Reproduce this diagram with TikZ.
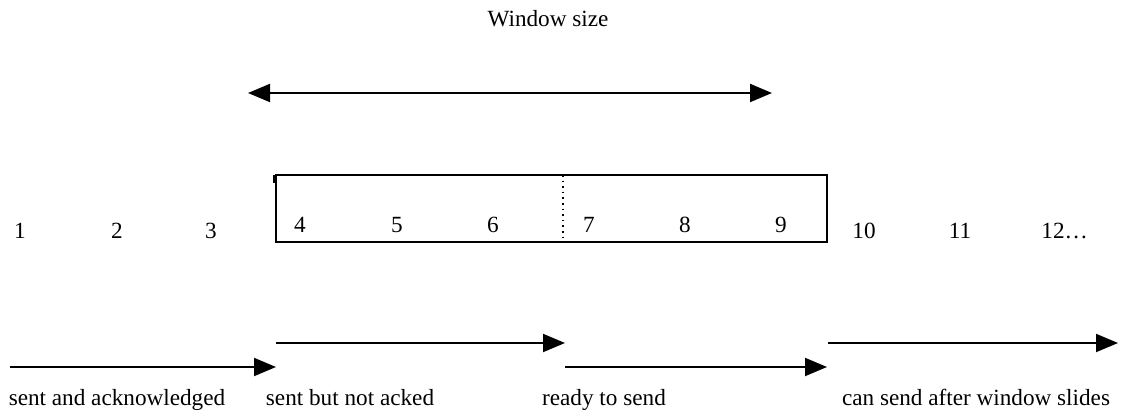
\documentclass[tikz,border=0pt]{standalone}
\usepackage{fontspec}
\setmainfont{Liberation Serif}
\usetikzlibrary{arrows.meta}
\tikzset{
  lbl/.style={inner sep=0pt, anchor=base, font=\fontsize{11.6}{14}\selectfont},
  num/.style={lbl},
  span/.style={line width=1pt, -{Triangle[length=11pt,width=9pt]}},
  bispan/.style={line width=1pt, {Triangle[length=11pt,width=9pt]}-{Triangle[length=11pt,width=9pt]}},
  frame/.style={line width=0.8pt}
}
\begin{document}
\begin{tikzpicture}[x=0.5pt,y=-0.5pt]
\useasboundingbox (0,0) rectangle (1135,416);

% window size indicator
\node[lbl] (ws) at (548,27) {Window size};
\coordinate (wl) at (248,93);
\coordinate (wr) at (772,93);
\draw[bispan] (wl) -- (wr);

% sliding window frame
\coordinate (btl) at (276,175);
\coordinate (bbr) at (827,242);
\draw[frame] (btl) rectangle (bbr);
\draw[frame] (274,175) -- (274,183);
\coordinate (dtop) at (563,175);
\coordinate (dbot) at (563,242);
\draw[line width=0.8pt, dotted] (dtop) -- (dbot);

% sequence numbers
\node[num] (n1) at (20,239) {1};
\node[num] (n2) at (117,239) {2};
\node[num] (n3) at (211,239) {3};
\node[num] (n4) at (300,233) {4};
\node[num] (n5) at (397,233) {5};
\node[num] (n6) at (493,233) {6};
\node[num] (n7) at (589,233) {7};
\node[num] (n8) at (685,233) {8};
\node[num] (n9) at (781,233) {9};
\node[num] (n10) at (864,239) {10};
\node[num] (n11) at (960,239) {11};
\node[num, anchor=base west] (n12) at (1041,239) {12…};

% category ranges
\coordinate (a1s) at (10,367);   \coordinate (a1e) at (276,367);
\coordinate (a2s) at (276,343);  \coordinate (a2e) at (565,343);
\coordinate (a3s) at (565,367);  \coordinate (a3e) at (827,367);
\coordinate (a4s) at (828,343);  \coordinate (a4e) at (1118,343);
\draw[span] (a1s) -- (a1e);
\draw[span] (a2s) -- (a2e);
\draw[span] (a3s) -- (a3e);
\draw[span] (a4s) -- (a4e);

\node[lbl] (l1) at (117,406) {sent and acknowledged};
\node[lbl] (l2) at (350,406) {sent but not acked};
\node[lbl] (l3) at (604,406) {ready to send};
\node[lbl] (l4) at (976,406) {can send after window slides};
\end{tikzpicture}
\end{document}
